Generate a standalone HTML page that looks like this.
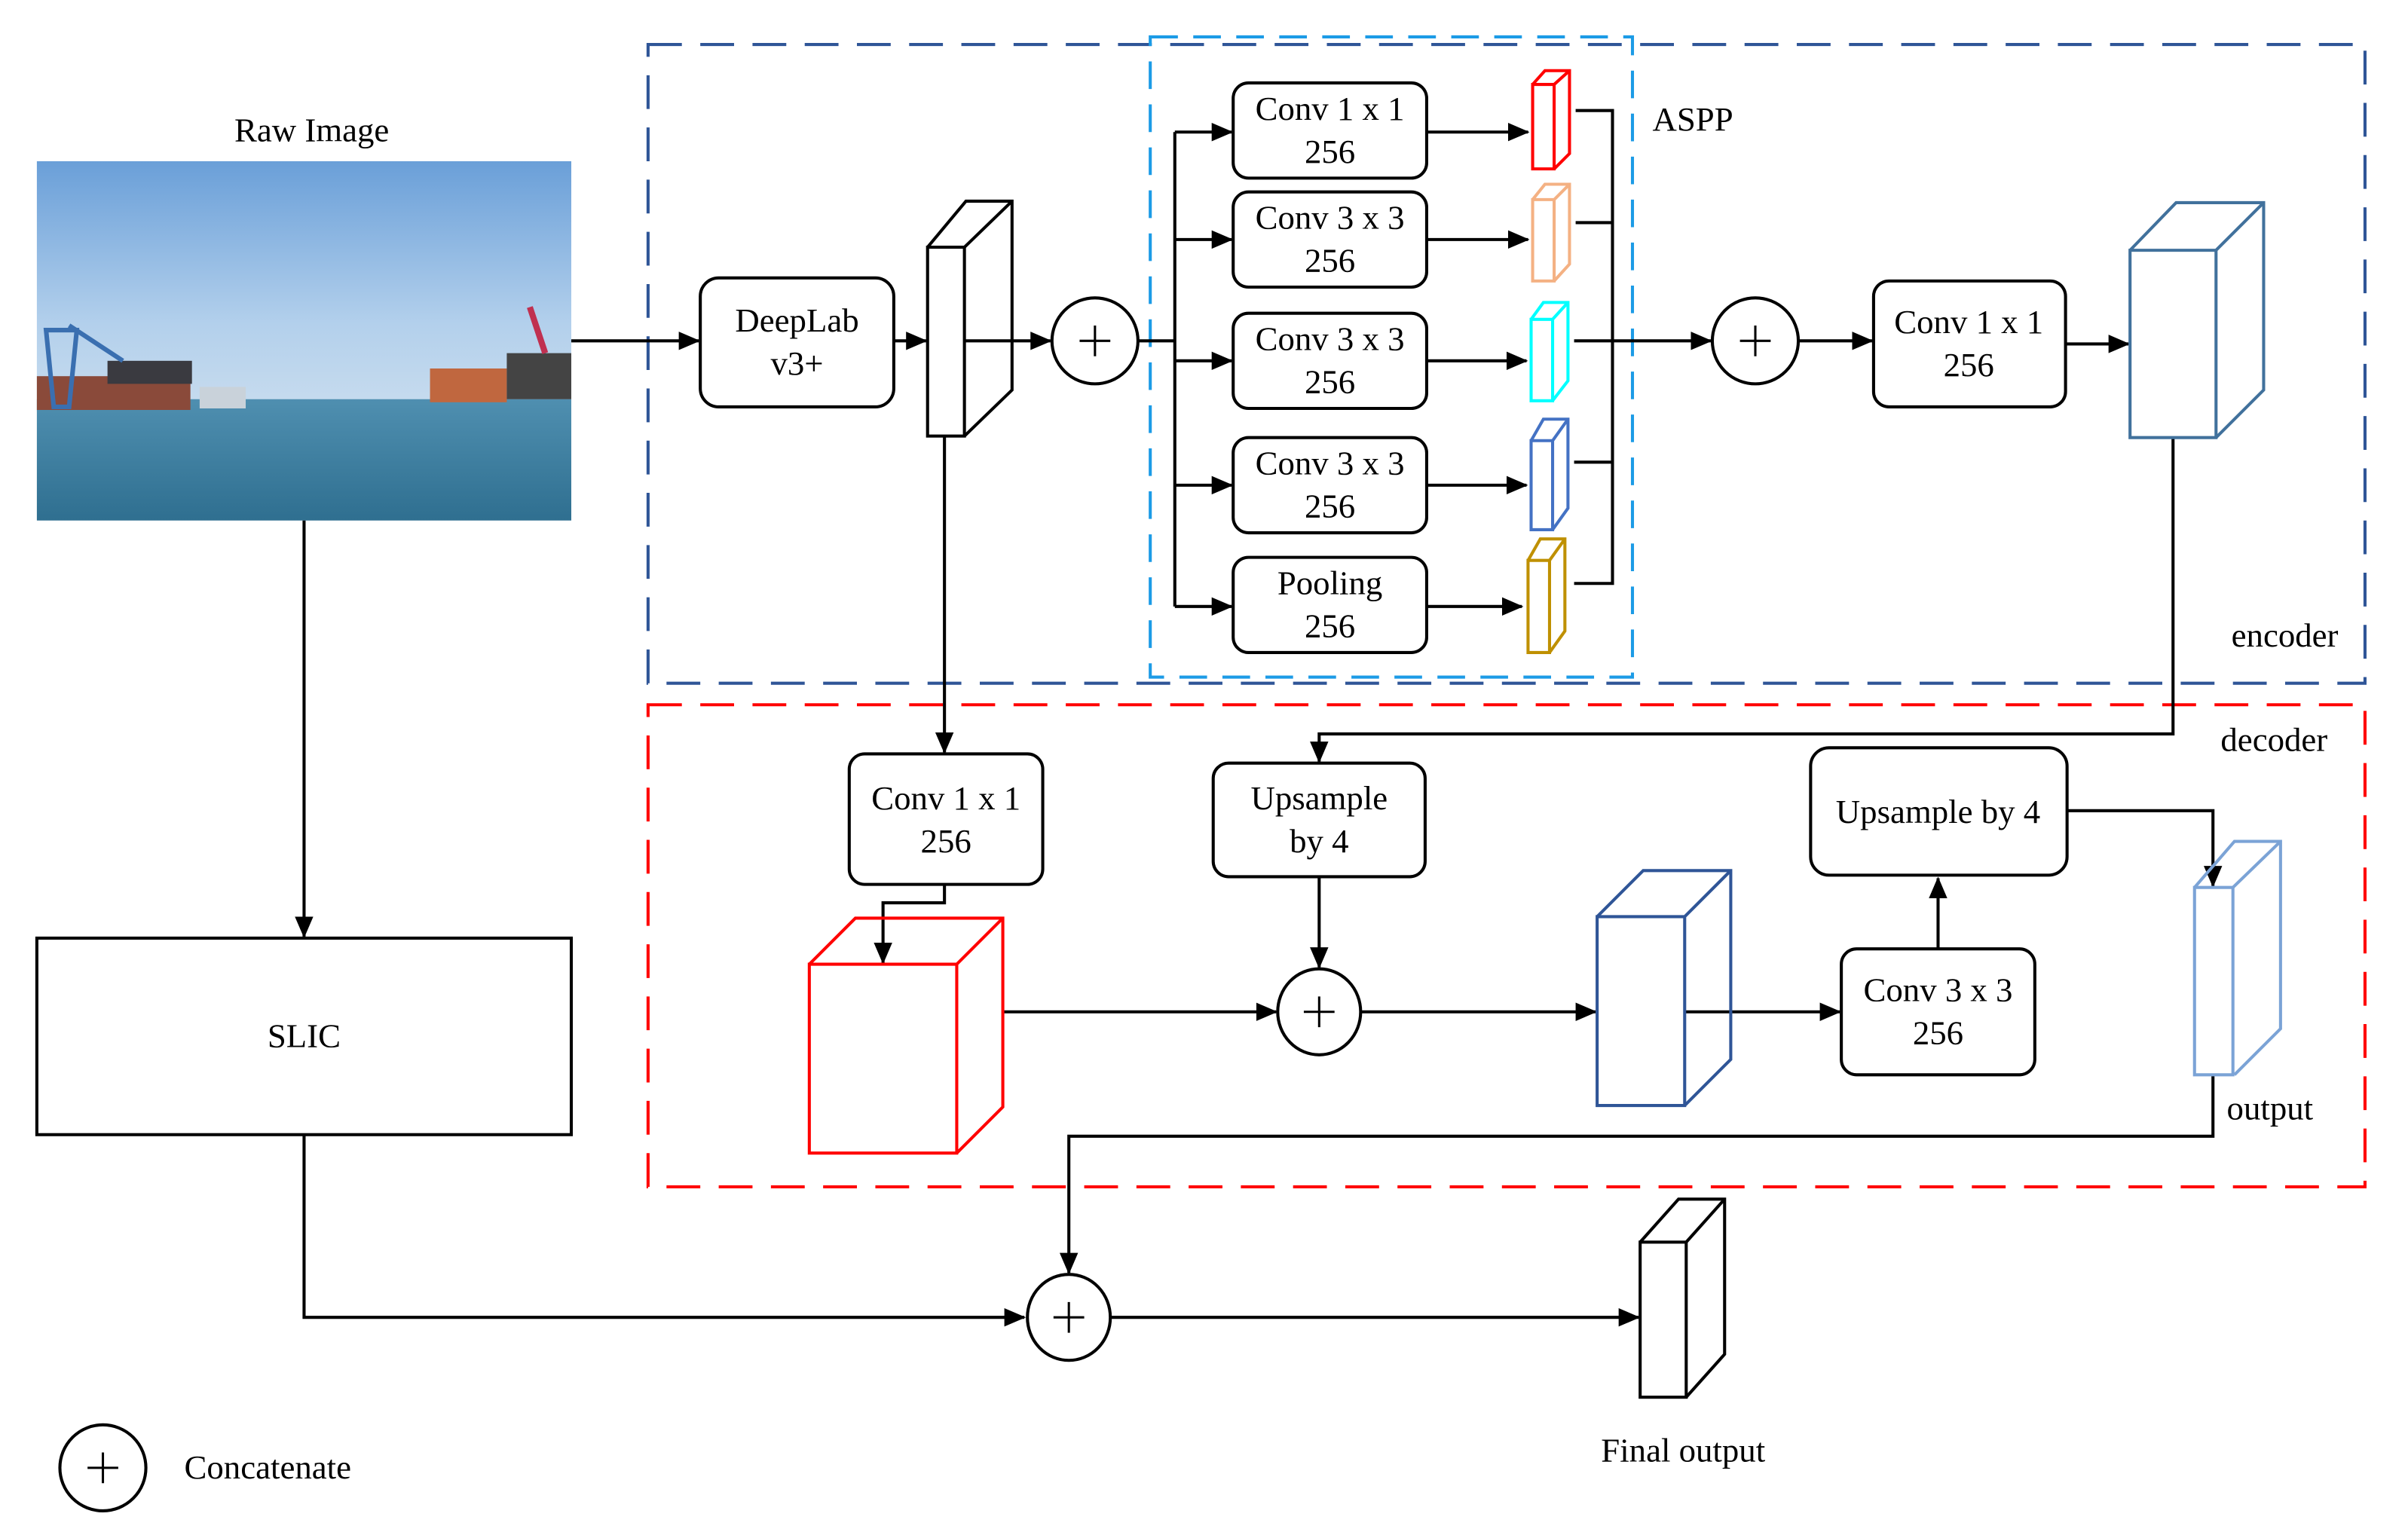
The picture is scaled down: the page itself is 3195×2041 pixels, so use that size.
<!DOCTYPE html>
<html><head><meta charset="utf-8"><style>
html,body{margin:0;padding:0;background:#fff;}
svg{display:block;}
text{font-family:"Liberation Serif",serif;font-size:22px;fill:#000;}
</style></head><body>
<svg width="3195" height="2041" viewBox="0 0 1568 1001.7" preserveAspectRatio="none" xmlns="http://www.w3.org/2000/svg">
<defs>
<marker id="a" markerWidth="14" markerHeight="14" refX="13" refY="7" orient="auto" markerUnits="userSpaceOnUse"><path d="M0,1 L14,7 L0,13 z" fill="#000"/></marker>
<linearGradient id="sky" x1="0" y1="0" x2="0" y2="1"><stop offset="0" stop-color="#6a9fd8"/><stop offset="0.65" stop-color="#b3d0ec"/><stop offset="1" stop-color="#c8dcee"/></linearGradient>
<linearGradient id="sea" x1="0" y1="0" x2="0" y2="1"><stop offset="0" stop-color="#4f8fb0"/><stop offset="1" stop-color="#2f6f90"/></linearGradient>
</defs>
<g stroke-width="2" fill="none">
<rect x="422" y="29" width="1118" height="416" stroke="#2F5597" stroke-dasharray="22,12"/>
<rect x="749" y="24" width="314" height="417" stroke="#1C9BE6" stroke-dasharray="18,10"/>
<rect x="422" y="459" width="1118" height="314" stroke="#FF0000" stroke-dasharray="22,12"/>
</g>
<text x="203" y="92" text-anchor="middle">Raw Image</text>
<rect x="24" y="105" width="348" height="163" fill="url(#sky)"/>
<rect x="24" y="260" width="348" height="79" fill="url(#sea)"/>
<rect x="24" y="245" width="100" height="22" fill="#8a4a3a"/>
<rect x="70" y="235" width="55" height="15" fill="#3a3a40"/>
<path d="M30,215 L50,215 L45,265 L35,265 Z M45,212 L80,235" stroke="#3a6fb0" stroke-width="3" fill="none"/>
<rect x="280" y="240" width="50" height="22" fill="#c0673f"/>
<rect x="330" y="230" width="42" height="30" fill="#444"/>
<path d="M345,200 L355,230" stroke="#c03050" stroke-width="4"/>
<rect x="130" y="252" width="30" height="14" fill="#c9d2da"/>
<rect x="24" y="611" width="348" height="128" fill="none" stroke="#000" stroke-width="2"/>
<text x="198" y="682" text-anchor="middle">SLIC</text>
<g stroke="#000" stroke-width="2" fill="none">
<line x1="198" y1="339" x2="198" y2="610" marker-end="url(#a)"/>
<polyline points="198,739 198,858 667,858" marker-end="url(#a)"/>
<line x1="372" y1="222" x2="455" y2="222" marker-end="url(#a)"/>
<rect x="456" y="181" width="126" height="84" rx="12"/>
<line x1="582" y1="222" x2="603" y2="222" marker-end="url(#a)"/>
<rect x="604" y="161" width="24" height="123"/>
<path d="M604,161 L629,131 L659,131 L659,254 L628,284 M628,161 L659,131"/>
<line x1="628" y1="222" x2="684" y2="222" marker-end="url(#a)"/>
<ellipse cx="713" cy="222" rx="28" ry="28"/>
<line x1="741" y1="222" x2="765" y2="222"/>
<line x1="765" y1="86" x2="765" y2="395"/>
<line x1="765" y1="86" x2="802" y2="86" marker-end="url(#a)"/>
<line x1="765" y1="156" x2="802" y2="156" marker-end="url(#a)"/>
<line x1="765" y1="235" x2="802" y2="235" marker-end="url(#a)"/>
<line x1="765" y1="316" x2="802" y2="316" marker-end="url(#a)"/>
<line x1="765" y1="395" x2="802" y2="395" marker-end="url(#a)"/>
<rect x="803" y="54" width="126" height="62" rx="10"/>
<rect x="803" y="125" width="126" height="62" rx="10"/>
<rect x="803" y="204" width="126" height="62" rx="10"/>
<rect x="803" y="285" width="126" height="62" rx="10"/>
<rect x="803" y="363" width="126" height="62" rx="10"/>
<line x1="929" y1="86" x2="995" y2="86" marker-end="url(#a)"/>
<line x1="929" y1="156" x2="995" y2="156" marker-end="url(#a)"/>
<line x1="929" y1="235" x2="994" y2="235" marker-end="url(#a)"/>
<line x1="929" y1="316" x2="994" y2="316" marker-end="url(#a)"/>
<line x1="929" y1="395" x2="991" y2="395" marker-end="url(#a)"/>
<polyline points="1026,72 1050,72 1050,380 1025,380"/>
<line x1="1026" y1="145" x2="1050" y2="145"/>
<line x1="1025" y1="222" x2="1050" y2="222"/>
<line x1="1025" y1="301" x2="1050" y2="301"/>
<line x1="1050" y1="222" x2="1114" y2="222" marker-end="url(#a)"/>
<ellipse cx="1143" cy="222" rx="28" ry="28"/>
<line x1="1171" y1="222" x2="1219" y2="222" marker-end="url(#a)"/>
<rect x="1220" y="183" width="125" height="82" rx="10"/>
<line x1="1345" y1="224" x2="1386" y2="224" marker-end="url(#a)"/>
<polyline points="1415,285 1415,478 859,478 859,496" marker-end="url(#a)"/>
<line x1="615" y1="284" x2="615" y2="490" marker-end="url(#a)"/>
<rect x="553" y="491" width="126" height="85" rx="10"/>
<polyline points="615,576 615,588 575,588 575,627" marker-end="url(#a)"/>
<rect x="790" y="497" width="138" height="74" rx="10"/>
<line x1="859" y1="571" x2="859" y2="630" marker-end="url(#a)"/>
<line x1="653" y1="659" x2="831" y2="659" marker-end="url(#a)"/>
<ellipse cx="859" cy="659" rx="27" ry="28"/>
<line x1="886" y1="659" x2="1039" y2="659" marker-end="url(#a)"/>
<line x1="1097" y1="659" x2="1198" y2="659" marker-end="url(#a)"/>
<rect x="1199" y="618" width="126" height="82" rx="10"/>
<line x1="1262" y1="618" x2="1262" y2="572" marker-end="url(#a)"/>
<rect x="1179" y="487" width="167" height="83" rx="12"/>
<polyline points="1346,528 1441,528 1441,577" marker-end="url(#a)"/>
<polyline points="1441,700 1441,740 696,740 696,829" marker-end="url(#a)"/>
<ellipse cx="696" cy="858" rx="27" ry="28"/>
<line x1="723" y1="858" x2="1067" y2="858" marker-end="url(#a)"/>
<rect x="1068" y="809" width="30" height="101"/>
<path d="M1068,809 L1093,781 L1123,781 L1123,882 L1098,910 M1098,809 L1123,781"/>
<ellipse cx="67" cy="956" rx="28" ry="28"/>
</g>
<g stroke-width="2" fill="none">
<path stroke="#FF0000" d="M998,55 h14 v55 h-14 z M998,55 l8,-9 h16 v54 l-10,10 M1012,55 l10,-9"/>
<path stroke="#F4B183" d="M998,130 h14 v53 h-14 z M998,130 l8,-10 h16 v52 l-10,11 M1012,130 l10,-10"/>
<path stroke="#00FFFF" d="M997,208 h14 v53 h-14 z M997,208 l8,-11 h16 v51 l-10,13 M1011,208 l10,-11"/>
<path stroke="#4472C4" d="M997,287 h14 v58 h-14 z M997,287 l8,-14 h16 v58 l-10,14 M1011,287 l10,-14"/>
<path stroke="#BF9000" d="M995,365 h14 v60 h-14 z M995,365 l8,-14 h16 v60 l-10,14 M1009,365 l10,-14"/>
<path stroke="#41719C" d="M1387,163 h56 v122 h-56 z M1387,163 l30,-31 h57 v122 l-31,31 M1443,163 l31,-31"/>
<path stroke="#FF0000" d="M527,628 h96 v123 h-96 z M527,628 l30,-30 h96 v123 l-30,30 M623,628 l30,-30"/>
<path stroke="#2F5597" d="M1040,597 h57 v123 h-57 z M1040,597 l30,-30 h57 v123 l-30,30 M1097,597 l30,-30"/>
<path stroke="#7BA3D6" d="M1429,578 h25 v122 h-25 z M1429,578 l26,-30 h30 v122 l-30,30 M1454,578 l31,-30"/>
</g>
<g stroke="#000" stroke-width="1.5">
<path d="M703,222 h20 M713,212 v20"/>
<path d="M1133,222 h20 M1143,212 v20"/>
<path d="M849,659 h20 M859,649 v20"/>
<path d="M686,858 h20 M696,848 v20"/>
<path d="M57,956 h20 M67,946 v20"/>
</g>
<g text-anchor="middle">
<text x="519" y="216">DeepLab</text><text x="519" y="244">v3+</text>
<text x="866" y="78">Conv 1 x 1</text><text x="866" y="106">256</text>
<text x="866" y="149">Conv 3 x 3</text><text x="866" y="177">256</text>
<text x="866" y="228">Conv 3 x 3</text><text x="866" y="256">256</text>
<text x="866" y="309">Conv 3 x 3</text><text x="866" y="337">256</text>
<text x="866" y="387">Pooling</text><text x="866" y="415">256</text>
<text x="1282" y="217">Conv 1 x 1</text><text x="1282" y="245">256</text>
<text x="616" y="527">Conv 1 x 1</text><text x="616" y="555">256</text>
<text x="859" y="527">Upsample</text><text x="859" y="555">by 4</text>
<text x="1262" y="536">Upsample by 4</text>
<text x="1262" y="652">Conv 3 x 3</text><text x="1262" y="680">256</text>
<text x="1096" y="952">Final output</text>
</g>
<text x="1076" y="85">ASPP</text>
<text x="1453" y="421">encoder</text>
<text x="1446" y="489">decoder</text>
<text x="1450" y="729">output</text>
<text x="120" y="963">Concatenate</text>
</svg>
</body></html>
